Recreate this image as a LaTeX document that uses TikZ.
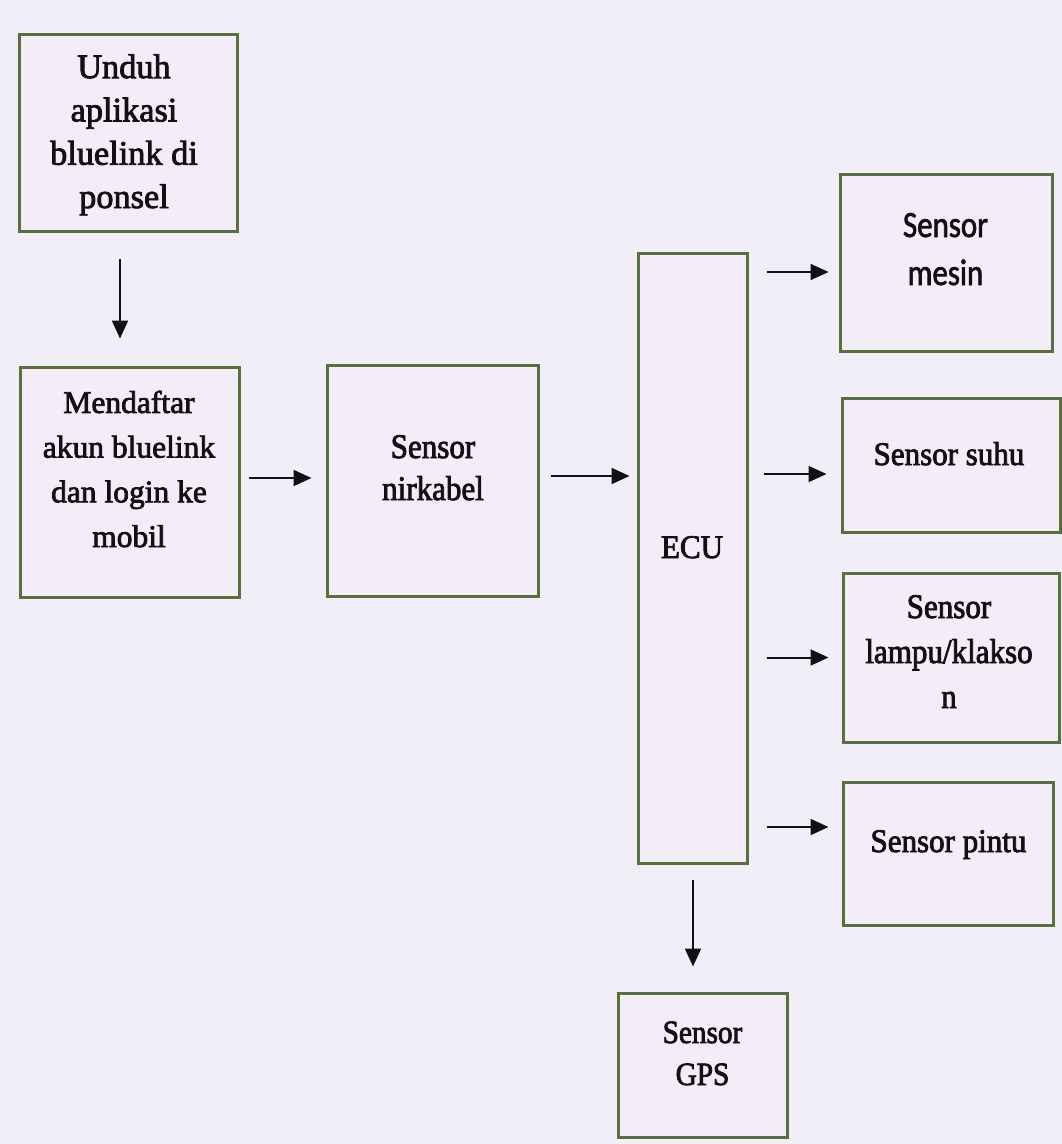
\documentclass[tikz,border=0pt]{standalone}
\usepackage{fontspec}
\setmainfont{Liberation Serif}[FakeBold=2.4]
\newfontfamily\tms{Liberation Serif}[FakeBold=2.4]
\newfontfamily\tmsa{Liberation Serif}[FakeBold=2.4, FakeStretch=0.94]
\newfontfamily\tmsb{Liberation Serif}[FakeBold=2.4, FakeStretch=0.9]
\newfontfamily\carl{Carlito}[FakeBold=1.8, FakeStretch=0.835]
\usetikzlibrary{arrows.meta}
\definecolor{bgc}{RGB}{242,238,247}
\definecolor{boxfill}{RGB}{243,237,247}
\definecolor{edge}{RGB}{88,112,60}
\definecolor{ink}{RGB}{18,16,22}
\tikzset{
  box/.style={draw=edge, line width=3pt, fill=boxfill, rectangle, inner sep=0pt},
  txt/.style={text=ink, align=center, anchor=base, inner sep=0pt, font=\tmsa\fontsize{33}{44}\selectfont},
  arr/.style={draw=ink, line width=2pt, -{Triangle[length=18pt,width=16pt]}}
}
\begin{document}
\begin{tikzpicture}[x=1pt,y=-1pt]
\useasboundingbox (0,0) rectangle (1062,1144);
\fill[bgc] (0,0) rectangle (1062,1144);
% boxes
\node[box, minimum width=218pt, minimum height=197pt] (b1) at (128,132.5) {};
\node[box, minimum width=219pt, minimum height=230pt] (b2) at (129.5,482) {};
\node[box, minimum width=211pt, minimum height=231pt] (b3) at (432.5,480.5) {};
\node[box, minimum width=109pt, minimum height=610pt] (ecu) at (692.5,558) {};
\node[box, minimum width=212pt, minimum height=177pt] (mesin) at (946,262.5) {};
\node[box, minimum width=218pt, minimum height=134pt] (suhu) at (951,465) {};
\node[box, minimum width=216pt, minimum height=169pt] (lampu) at (951,657.5) {};
\node[box, minimum width=210pt, minimum height=143pt] (pintu) at (948,853.5) {};
\node[box, minimum width=169pt, minimum height=144pt] (gps) at (702.5,1065) {};
% texts (anchored at the baseline of the last line)
\node[txt, font=\tms\fontsize{34.3}{43.3}\selectfont] (t1) at (124,208) {Unduh\\aplikasi\\bluelink di\\ponsel};
\node[txt, font=\tms\fontsize{31.5}{44.7}\selectfont] (t2) at (129,547) {Mendaftar\\akun bluelink\\dan login ke\\mobil};
\node[txt, font=\tmsb\fontsize{34.5}{42}\selectfont] (t3) at (433,500) {Sensor\\nirkabel};
\node[txt] (tecu) at (692,558) {ECU};
\node[txt, font=\carl\fontsize{37}{48}\selectfont] (tmesin) at (945.5,285) {Sensor\\mesin};
\node[txt] (tsuhu) at (949,465) {Sensor suhu};
\node[txt, font=\tmsb\fontsize{34.5}{45}\selectfont] (tlampu) at (949,708) {Sensor\\lampu/klakso\\n};
\node[txt] (tpintu) at (948.5,852) {Sensor pintu};
\node[txt, font=\tmsb\fontsize{32.5}{42}\selectfont] (tgps) at (702.5,1085) {Sensor\\GPS};
% connectors
\draw[arr, shorten <=26pt, shorten >=27pt] ([xshift=-8pt]b1.south) -- ([xshift=-8pt]b1.south |- b2.north);
\draw[arr, shorten <=8pt, shorten >=14pt] ([yshift=4pt]b2.east) -- ([yshift=4pt]b2.east -| b3.west);
\draw[arr, shorten <=11pt, shorten >=7pt] ([yshift=4.5pt]b3.east) -- ([yshift=4.5pt]b3.east -| ecu.west);
\draw[arr, shorten <=18pt, shorten >=10pt] ([yshift=-9.5pt]ecu.east |- mesin.west) -- ([yshift=-9.5pt]mesin.west);
\draw[arr, shorten <=15pt, shorten >=14pt] ([yshift=-9pt]ecu.east |- suhu.west) -- ([yshift=-9pt]suhu.west);
\draw[arr, shorten <=18pt, shorten >=13pt] (ecu.east |- lampu.west) -- (lampu.west);
\draw[arr, shorten <=18pt, shorten >=13pt] ([yshift=26.5pt]ecu.east |- pintu.west) -- ([yshift=26.5pt]pintu.west);
\draw[arr, shorten <=15pt, shorten >=25pt] ([xshift=0.5pt]ecu.south) -- ([xshift=0.5pt]ecu.south |- gps.north);
\end{tikzpicture}
\end{document}
